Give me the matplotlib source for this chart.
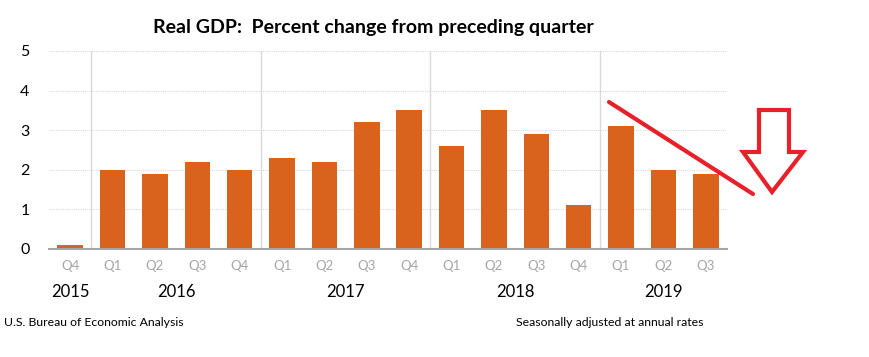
import matplotlib.pyplot as plt
from matplotlib.lines import Line2D

plt.rcParams['font.family'] = ['Lato', 'DejaVu Sans']

# Data: real GDP, percent change from preceding quarter
quarters = ['Q4', 'Q1', 'Q2', 'Q3', 'Q4', 'Q1', 'Q2', 'Q3', 'Q4',
            'Q1', 'Q2', 'Q3', 'Q4', 'Q1', 'Q2', 'Q3']
gdp_change = [0.1, 2.0, 1.9, 2.2, 2.0, 2.3, 2.2, 3.2, 3.5,
              2.6, 3.5, 2.9, 1.1, 3.1, 2.0, 1.9]
years = ['2015', '2016', '2017', '2018', '2019']
year_start = [0, 1, 5, 9, 13]
year_end = [0, 4, 8, 12, 15]

W, H = 869, 357
fig = plt.figure(figsize=(W / 100, H / 100), dpi=100)
ax = fig.add_axes([49 / W, 1 - 249 / H, 678 / W, 198 / H])

x = list(range(len(gdp_change)))
ax.bar(x, gdp_change, width=0.6, color='#d9621c', zorder=3)

ax.set_xlim(-0.5, len(x) - 0.5)
ax.set_ylim(0, 5)
ax.set_yticks(range(6))
ax.tick_params(axis='y', length=0, pad=14, labelsize=11.5)
ax.set_xticks(x)
ax.set_xticklabels(quarters)
ax.tick_params(axis='x', length=0, pad=8, labelsize=9.5, labelcolor='#a6a6a6')

for s in ['top', 'right', 'left']:
    ax.spines[s].set_visible(False)
ax.spines['bottom'].set_color('#a6a6a6')
ax.spines['bottom'].set_linewidth(1.5)
ax.spines['bottom'].set_zorder(4)

# dotted horizontal gridlines
for v in range(1, 6):
    ax.axhline(v, color='#d9d9d9', lw=0.8, ls=(0, (1, 1)), zorder=1)

# year separators
for s in year_start[1:]:
    ax.axvline(s - 0.5, color='#d9d9d9', lw=1, zorder=1)

# year labels
for yr, a, b in zip(years, year_start, year_end):
    ax.text((a + b) / 2, -1.08, yr, ha='center', va='center', fontsize=12)

fig.text(373 / W, 1 - 27 / H, 'Real GDP:  Percent change from preceding quarter',
         ha='center', va='center', fontsize=14, fontweight='bold')
fig.text(4 / W, 1 - 322 / H, 'U.S. Bureau of Economic Analysis',
         ha='left', va='center', fontsize=8.8)
fig.text(516 / W, 1 - 322 / H, 'Seasonally adjusted at annual rates',
         ha='left', va='center', fontsize=8.8)

# red hand-drawn annotation (pixel coordinates)
red = '#e8202a'
def px(xs, ys):
    return [v / W for v in xs], [1 - v / H for v in ys]

lx, ly = px([609, 753], [102, 194])
fig.add_artist(Line2D(lx, ly, color=red, lw=3, solid_capstyle='round'))
arrow_x = [759, 759, 743, 772, 803, 789, 789, 759]
arrow_y = [110, 152, 152, 192, 152, 152, 110, 110]
lx, ly = px(arrow_x, arrow_y)
fig.add_artist(Line2D(lx, ly, color=red, lw=3, solid_joinstyle='miter'))

fig.savefig('out.png', dpi=100)
